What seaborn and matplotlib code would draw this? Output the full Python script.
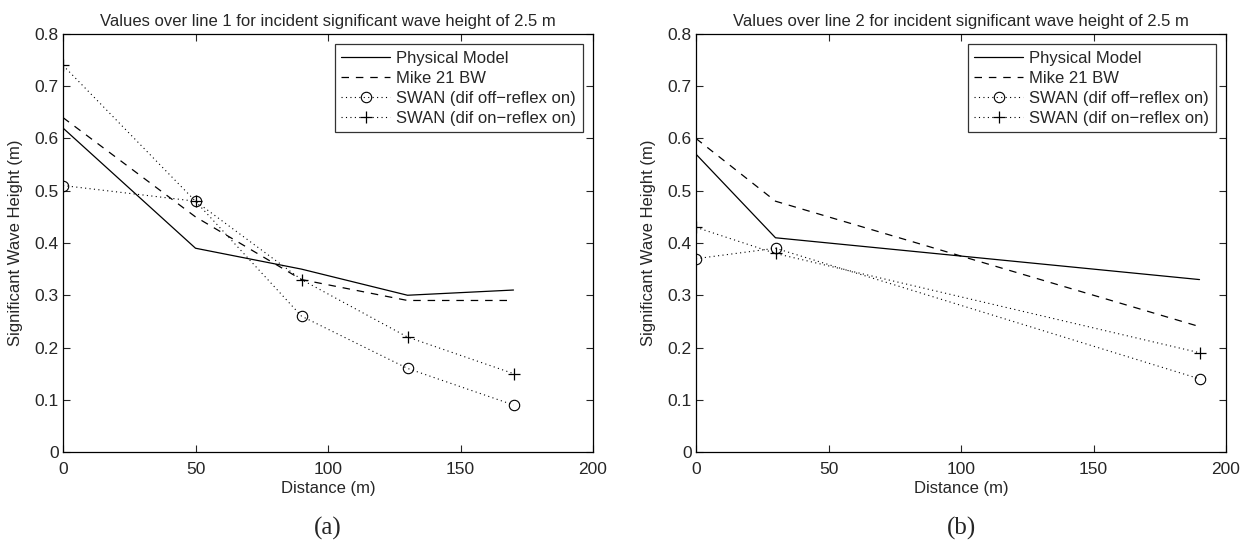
import numpy as np
import pandas as pd
import seaborn as sns
import matplotlib.pyplot as plt

# Line 1 data
x1 = [0, 50, 90, 130, 170]
phys1 = [0.62, 0.39, 0.35, 0.30, 0.31]
mike1 = [0.64, 0.45, 0.33, 0.29, 0.29]
swan_off1 = [0.51, 0.48, 0.26, 0.16, 0.09]
swan_on1 = [0.74, 0.48, 0.33, 0.22, 0.15]

# Line 2 data
x2 = [0, 30, 190]
phys2 = [0.57, 0.41, 0.33]
mike2 = [0.60, 0.48, 0.24]
swan_off2 = [0.37, 0.39, 0.14]
swan_on2 = [0.43, 0.38, 0.19]

series_names = ['Physical Model', 'Mike 21 BW',
                'SWAN (dif off\u2212reflex on)', 'SWAN (dif on\u2212reflex on)']
titles = ['Values over line 1 for incident significant wave height of 2.5 m',
          'Values over line 2 for incident significant wave height of 2.5 m']
panel_labels = ['(a)', '(b)']

sns.set_style("ticks")
plt.rcParams['font.family'] = ['Liberation Sans', 'DejaVu Sans']
plt.rcParams['xtick.direction'] = 'in'
plt.rcParams['ytick.direction'] = 'in'

fig = plt.figure(figsize=(12.54, 5.43), dpi=100)
ax_a = fig.add_axes([63 / 1254, 1 - 452 / 543, 530 / 1254, 418 / 543])
ax_b = fig.add_axes([696 / 1254, 1 - 452 / 543, 530 / 1254, 418 / 543])

styles = [
    dict(linestyle='-', linewidth=0.9, marker=None),
    dict(linestyle=(0, (6, 5.5)), linewidth=0.9, marker=None),
    dict(linestyle=(0, (1, 3)), linewidth=0.8, marker='o', markersize=7.5,
         markerfacecolor='none', markeredgecolor='black', markeredgewidth=0.8),
    dict(linestyle=(0, (1, 3)), linewidth=0.8, marker='+', markersize=8,
         markeredgecolor='black', markeredgewidth=0.9),
]

panels = [
    (ax_a, x1, [phys1, mike1, swan_off1, swan_on1]),
    (ax_b, x2, [phys2, mike2, swan_off2, swan_on2]),
]

for i, (ax, x, ys) in enumerate(panels):
    for name, y, st in zip(series_names, ys, styles):
        sns.lineplot(x=x, y=y, ax=ax, color='black', label=name, **st)
    ax.set_xlim(0, 200)
    ax.set_ylim(0, 0.8)
    ax.set_xticks([0, 50, 100, 150, 200])
    ax.set_yticks(np.arange(0, 0.81, 0.1))
    ax.set_yticklabels(['0', '0.1', '0.2', '0.3', '0.4', '0.5', '0.6', '0.7', '0.8'])
    ax.tick_params(axis='both', labelsize=12.5, top=True, right=True, length=5, width=0.8)
    ax.tick_params(axis='x', pad=7)
    ax.tick_params(axis='y', pad=3)
    for sp in ax.spines.values():
        sp.set_linewidth(0.9)
        sp.set_color('black')
    ax.set_xlabel('Distance (m)', fontsize=12, labelpad=3)
    ax.set_ylabel('Significant Wave Height (m)', fontsize=12, labelpad=8)
    ax.set_title(titles[i], fontsize=12, pad=6)
    leg = ax.legend(loc='upper right', fontsize=12, frameon=True, fancybox=False,
                    borderaxespad=0.6, handlelength=2.9, labelspacing=0.3,
                    borderpad=0.4, handletextpad=0.4)
    leg.get_frame().set_edgecolor('black')
    leg.get_frame().set_linewidth(0.9)
    ax.text(0.5, -0.182, panel_labels[i], transform=ax.transAxes, ha='center', va='center',
            fontsize=18, family=['Liberation Serif', 'DejaVu Serif'])

plt.savefig('out.png', dpi=100)
